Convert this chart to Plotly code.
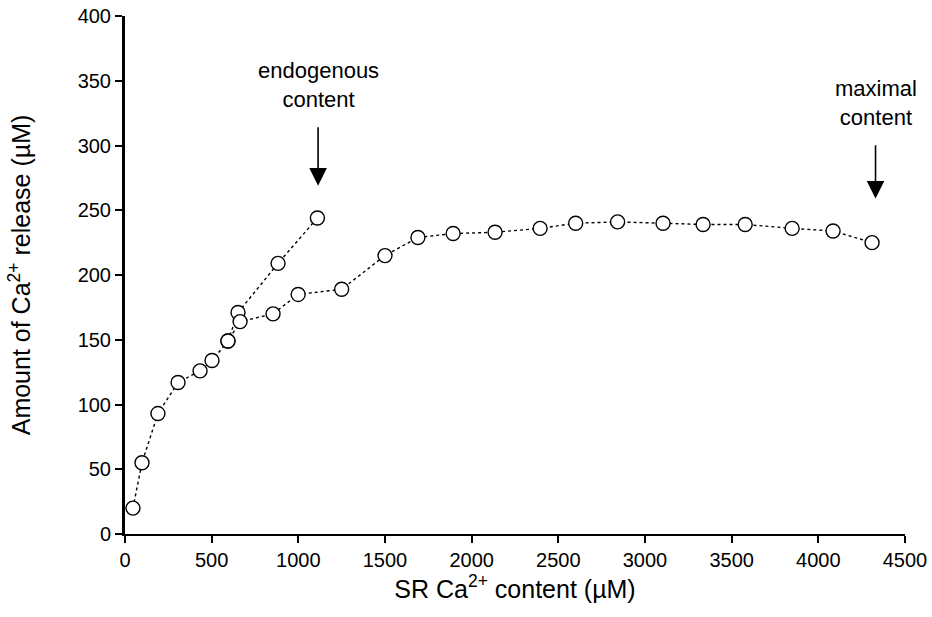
import plotly.graph_objects as go

# Main series: SR Ca2+ content (uM) vs amount of Ca2+ release (uM)
sr_content = [46, 98, 190, 306, 433, 502, 594, 664, 854, 999, 1250, 1500, 1690,
              1893, 2135, 2395, 2600, 2842, 3104, 3335, 3578, 3849, 4085, 4310]
ca_release = [20, 55, 93, 117, 126, 134, 149, 164, 170, 185, 189, 215, 229,
              232, 233, 236, 240, 241, 240, 239, 239, 236, 234, 225]

# Endogenous branch
endo_content = [594, 652, 883, 1110]
endo_release = [149, 171, 209, 244]

# Annotations: label text, arrow x, arrow tip y, label centre y
ann_labels = ["endogenous<br>content", "maximal<br>content"]
ann_x = [1114, 4330]
ann_tip_y = [269, 259]
ann_text_y = [347, 333]

x_ticks = [0, 500, 1000, 1500, 2000, 2500, 3000, 3500, 4000, 4500]
y_ticks = [0, 50, 100, 150, 200, 250, 300, 350, 400]

FONT = "Liberation Sans, Arial, sans-serif"

fig = go.Figure()
fig.add_trace(go.Scatter(
    x=endo_content, y=endo_release, mode="lines+markers",
    line=dict(color="black", width=1.4, dash="dot"),
    marker=dict(symbol="circle", size=14, color="white",
                line=dict(color="black", width=1.4)),
    showlegend=False))
fig.add_trace(go.Scatter(
    x=sr_content, y=ca_release, mode="lines+markers",
    line=dict(color="black", width=1.4, dash="dot"),
    marker=dict(symbol="circle", size=14, color="white",
                line=dict(color="black", width=1.4)),
    showlegend=False))

for lbl, x, tip, ty in zip(ann_labels, ann_x, ann_tip_y, ann_text_y):
    fig.add_annotation(x=x, y=tip, ax=x, ay=ty, xref="x", yref="y",
                       axref="x", ayref="y", text=lbl, showarrow=True,
                       arrowhead=2, arrowsize=2.2, arrowwidth=1.6,
                       arrowcolor="black", standoff=0, startstandoff=14,
                       font=dict(family=FONT, size=22, color="black"))

fig.update_layout(
    width=932, height=617,
    margin=dict(l=125, r=27, t=16, b=83),
    plot_bgcolor="white", paper_bgcolor="white",
    font=dict(family=FONT, color="black"),
)
fig.update_xaxes(
    range=[0, 4500], tickvals=x_ticks, ticktext=[str(v) for v in x_ticks],
    showgrid=False, zeroline=False, showline=True, linecolor="black", linewidth=2,
    ticks="outside", ticklen=7, tickwidth=2, tickcolor="black",
    tickfont=dict(family=FONT, size=20, color="black"),
    ticklabeloverflow="allow",
    title=dict(text="SR Ca<sup>2+</sup> content (µM)", standoff=0,
               font=dict(family=FONT, size=25, color="black")),
    automargin=False)
fig.update_yaxes(
    range=[0, 400], tickvals=y_ticks, ticktext=[str(v) for v in y_ticks],
    showgrid=False, zeroline=False, showline=True, linecolor="black", linewidth=3,
    ticks="outside", ticklen=7, tickwidth=2, tickcolor="black",
    tickfont=dict(family=FONT, size=20, color="black"),
    ticklabeloverflow="allow",
    title=dict(text="Amount of Ca<sup>2+</sup> release (µM)", standoff=40,
               font=dict(family=FONT, size=25, color="black")),
    automargin=False)

# remove the browser's default page margin so the figure fills the window exactly
fig.write_html("out.html", config={"displayModeBar": False},
               post_script="document.body.style.margin='0';")
